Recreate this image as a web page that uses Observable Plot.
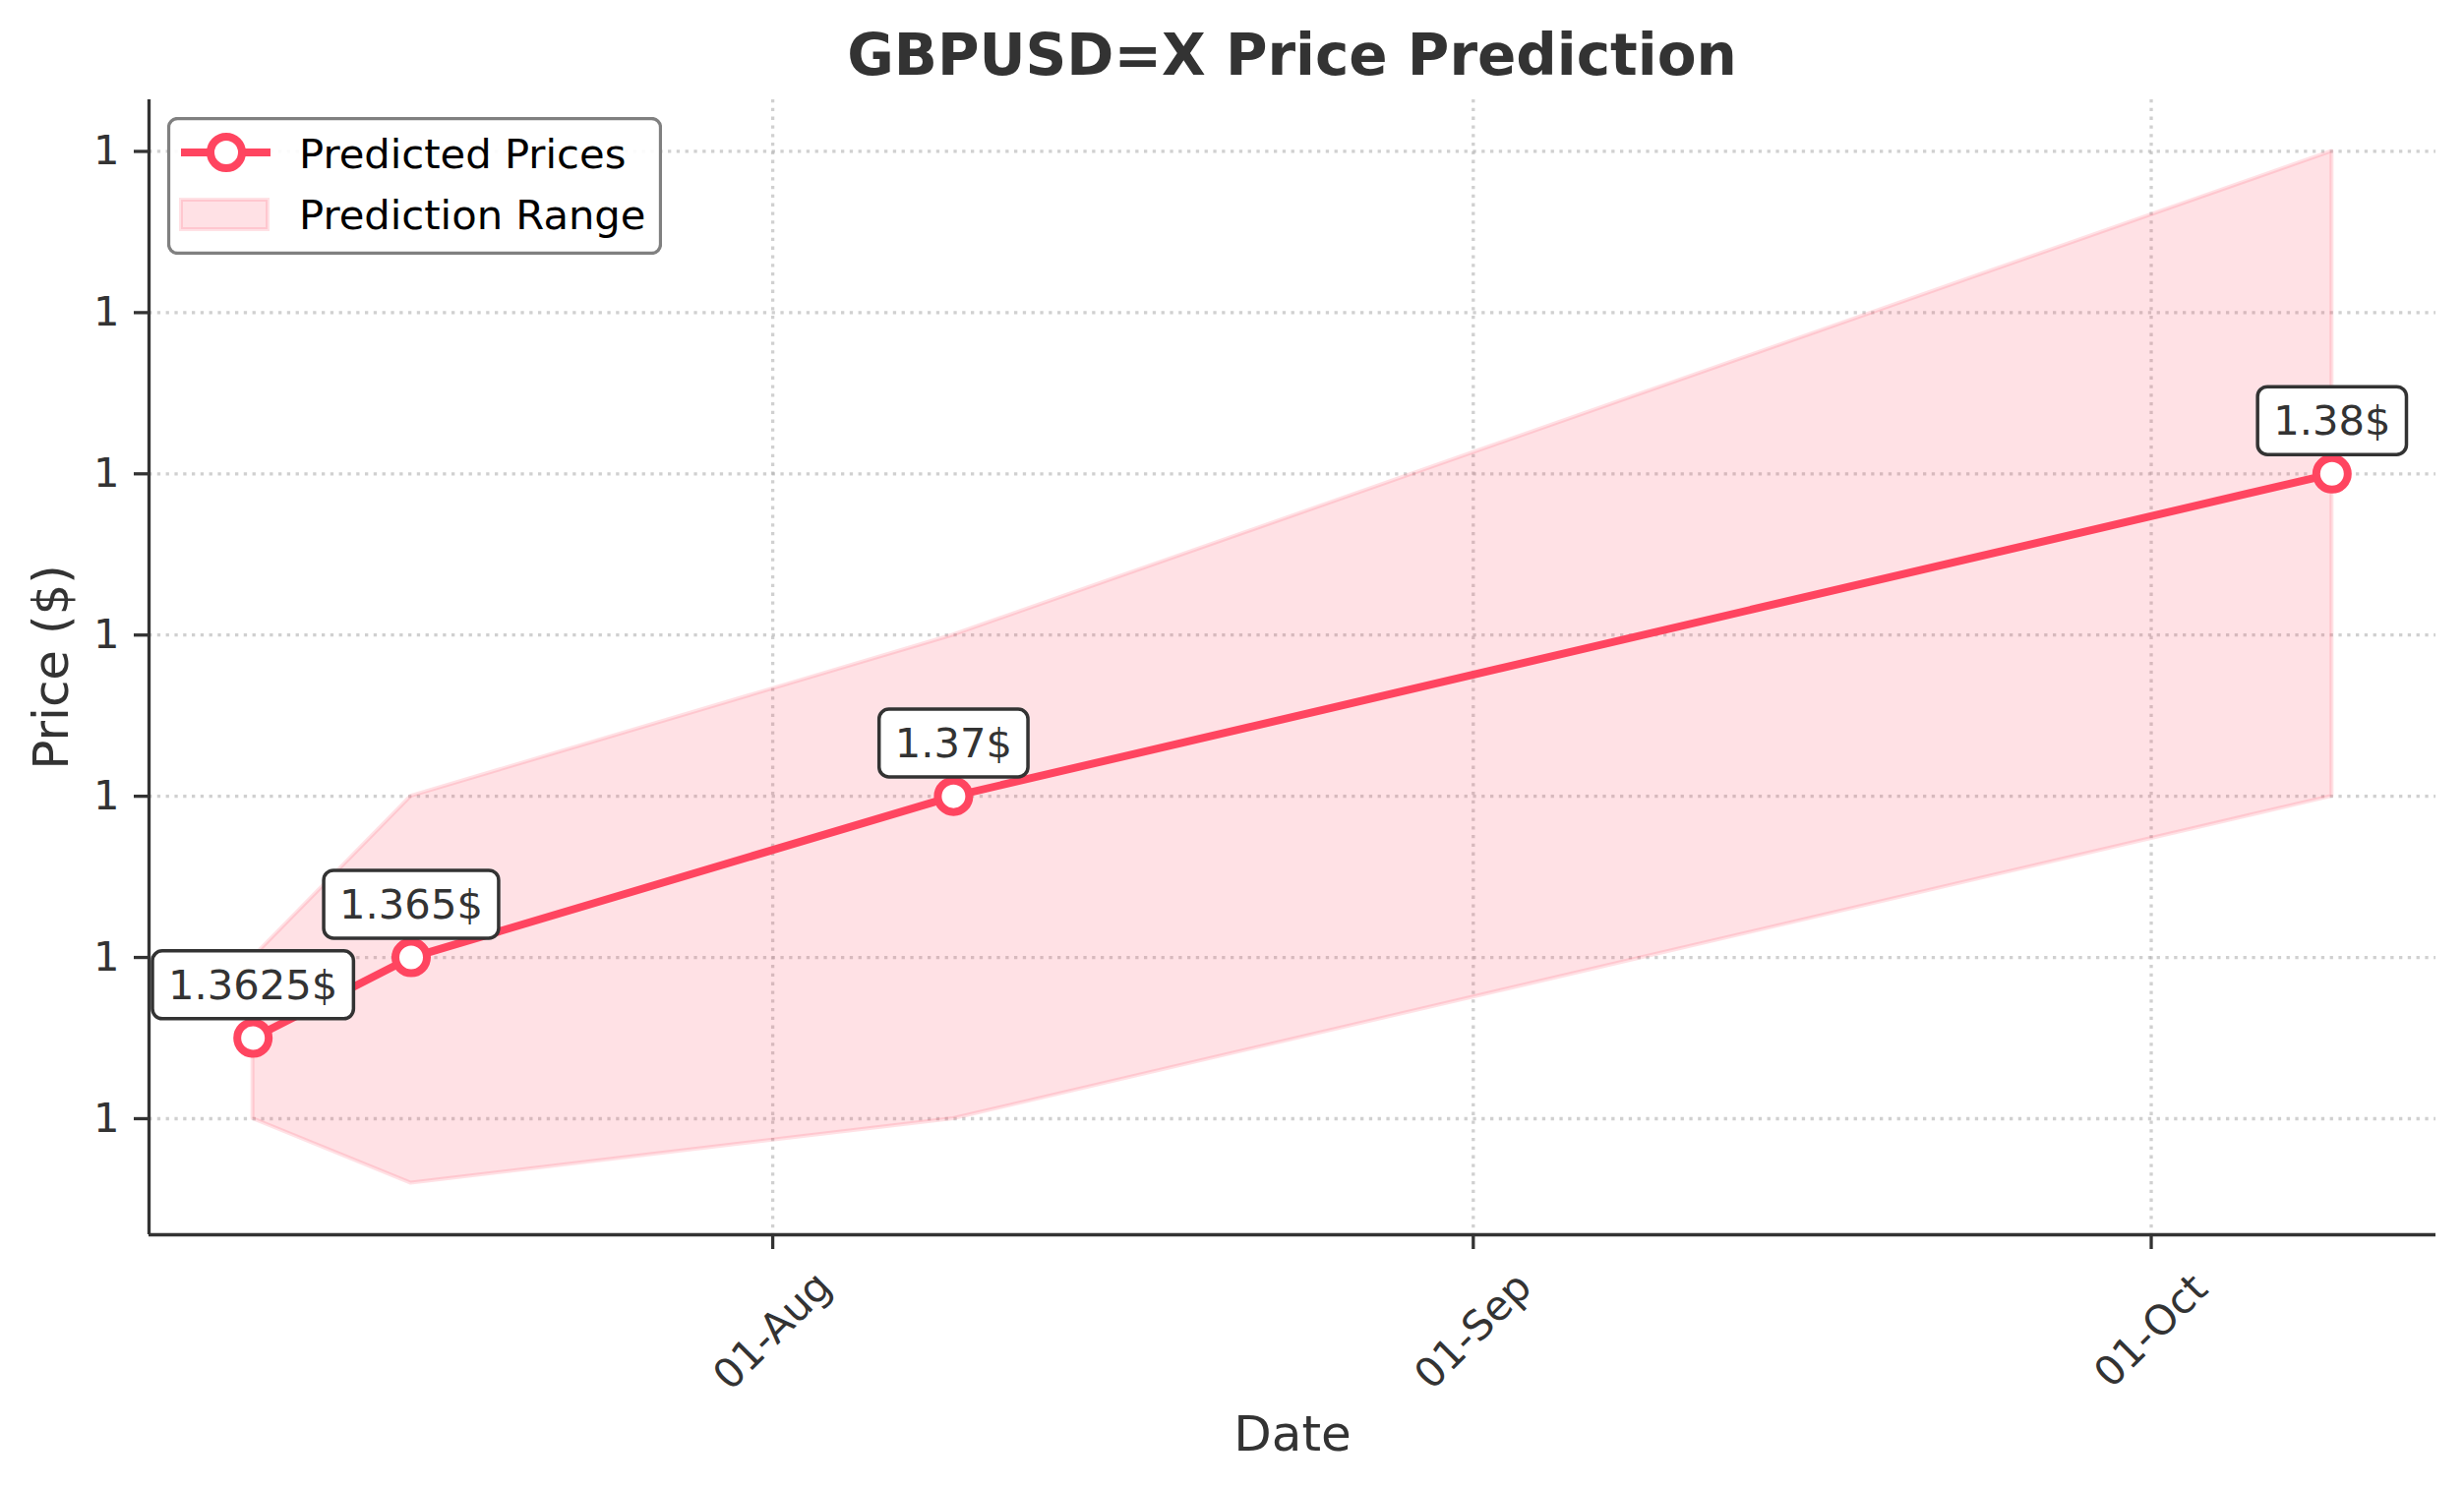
<!DOCTYPE html>
<html>
<head>
<meta charset="utf-8">
<script src="https://cdn.jsdelivr.net/npm/d3@7"></script>
<script src="https://cdn.jsdelivr.net/npm/@observablehq/plot@0.6"></script>
<style>
  html, body { margin: 0; padding: 0; background: #fff; }
  #wrap { position: relative; width: 2505px; height: 1513px; font-family: "DejaVu Sans", sans-serif; }
  #title { position: absolute; left: 151px; width: 2325px; top: 27px; height: 58px; line-height: 58px;
           text-align: center; font-size: 58px; font-weight: bold; color: #333; white-space: nowrap; }
  #chart { position: absolute; left: 0; top: 90px; }
  #legend { position: absolute; left: 170px; top: 119px; width: 503px; height: 140px; }
</style>
</head>
<body>
<div id="wrap">
  <div id="title">GBPUSD=X Price Prediction</div>
  <div id="chart"></div>
  <div id="legend"></div>
</div>
<script>
// ---- data ----
const dates = ["2025-07-09", "2025-07-16", "2025-08-09", "2025-10-09"];
const predicted = [1.3625, 1.365, 1.37, 1.38];
const lower = [1.360, 1.358, 1.360, 1.370];
const upper = [1.365, 1.370, 1.375, 1.390];
const xTickDates = ["2025-08-01", "2025-09-01", "2025-10-01"];
const yTickValues = [1.360, 1.365, 1.370, 1.375, 1.380, 1.385, 1.390];
const seriesLabels = ["Predicted Prices", "Prediction Range"];

const lineColor = "#ff4560";
const rows = dates.map((d, i) => ({date: new Date(d), pred: predicted[i], lo: lower[i], hi: upper[i]}));
const xTicks = xTickDates.map(d => new Date(d));

// matplotlib-style 5% margins
const xMin = d3.min(rows, r => r.date), xMax = d3.max(rows, r => r.date);
const xPad = (xMax - xMin) * 0.05;
const xDomain = [new Date(+xMin - xPad), new Date(+xMax + xPad)];
const yMin = d3.min(lower), yMax = d3.max(upper);
const yPad = (yMax - yMin) * 0.05;
const yDomain = [yMin - yPad, yMax + yPad];

const gridStyle = {stroke: "#b0b0b0", strokeOpacity: 0.6, strokeWidth: 3.3, strokeDasharray: "3.3,5.5"};

const plot = Plot.plot({
  width: 2505,
  height: 1423,
  marginTop: 11,
  marginBottom: 258,
  marginLeft: 151,
  marginRight: 29,
  style: {fontFamily: "DejaVu Sans", fontSize: "41.7px", color: "#333", background: "transparent", overflow: "visible"},
  x: {type: "utc", domain: xDomain},
  y: {domain: yDomain},
  marks: [
    Plot.gridY(yTickValues, gridStyle),
    Plot.gridX(xTicks, gridStyle),
    Plot.areaY(rows, {x: "date", y1: "lo", y2: "hi", fill: lineColor, fillOpacity: 0.16,
                      stroke: lineColor, strokeOpacity: 0.16, strokeWidth: 4}),
    Plot.line(rows, {x: "date", y: "pred", stroke: lineColor, strokeWidth: 8}),
    Plot.dot(rows, {x: "date", y: "pred", r: 16, fill: "white", stroke: lineColor, strokeWidth: 8}),
    Plot.ruleX([xDomain[0]], {stroke: "#333", strokeWidth: 3.3}),
    Plot.ruleY([yDomain[0]], {stroke: "#333", strokeWidth: 3.3}),
    Plot.axisY(yTickValues, {tickSize: 15, tickPadding: 15, tickFormat: d3.format(".0f"),
                             label: null, color: "#333", strokeWidth: 3.3}),
    Plot.axisX(xTicks, {tickSize: 15, tickPadding: 83, tickRotate: -45, textAnchor: "middle",
                        lineAnchor: "middle", tickFormat: d3.utcFormat("%d-%b"),
                        label: null, color: "#333", strokeWidth: 3.3}),
    Plot.text(rows, {x: "date", y: "pred", text: r => `${r.pred}$`, dy: -53, lineAnchor: "middle",
                     fill: "#333", className: "anno"}),
    Plot.text(["Price ($)"], {frameAnchor: "left", rotate: -90, dx: -99, textAnchor: "middle",
                              lineAnchor: "middle", fontSize: 50, fill: "#333"}),
    Plot.text(["Date"], {frameAnchor: "bottom", dy: 203, textAnchor: "middle", lineAnchor: "middle",
                         fontSize: 50, fill: "#333"})
  ]
});
document.getElementById("chart").appendChild(plot);

// annotation boxes (rounded, white, dark edge)
const ns = "http://www.w3.org/2000/svg";
plot.querySelectorAll("g.anno text").forEach(t => {
  const bb = t.getBBox();
  const r = document.createElementNS(ns, "rect");
  r.setAttribute("x", bb.x - 16);
  r.setAttribute("y", bb.y - 10);
  r.setAttribute("width", bb.width + 32);
  r.setAttribute("height", bb.height + 20);
  r.setAttribute("rx", 10);
  r.setAttribute("fill", "white");
  r.setAttribute("stroke", "#333");
  r.setAttribute("stroke-width", 3.5);
  const tr = t.getAttribute("transform");
  if (tr) r.setAttribute("transform", tr);
  t.parentNode.insertBefore(r, t);
});

// legend
const lg = document.getElementById("legend");
lg.innerHTML = `
<svg width="503" height="140" xmlns="http://www.w3.org/2000/svg" style="font-family:'DejaVu Sans';font-size:41.7px">
  <rect x="1.5" y="1.5" width="500" height="137" rx="9" fill="white" fill-opacity="0.9" stroke="#808080" stroke-width="3.3"/>
  <line x1="14" x2="105" y1="36" y2="36" stroke="${lineColor}" stroke-width="8"/>
  <circle cx="60" cy="36" r="16" fill="white" stroke="${lineColor}" stroke-width="8"/>
  <text x="134" y="52" fill="#000">${seriesLabels[0]}</text>
  <rect x="14" y="84" width="88" height="30" fill="${lineColor}" fill-opacity="0.16" stroke="${lineColor}" stroke-opacity="0.16" stroke-width="4"/>
  <text x="134" y="114" fill="#000">${seriesLabels[1]}</text>
</svg>`;
</script>
</body>
</html>
